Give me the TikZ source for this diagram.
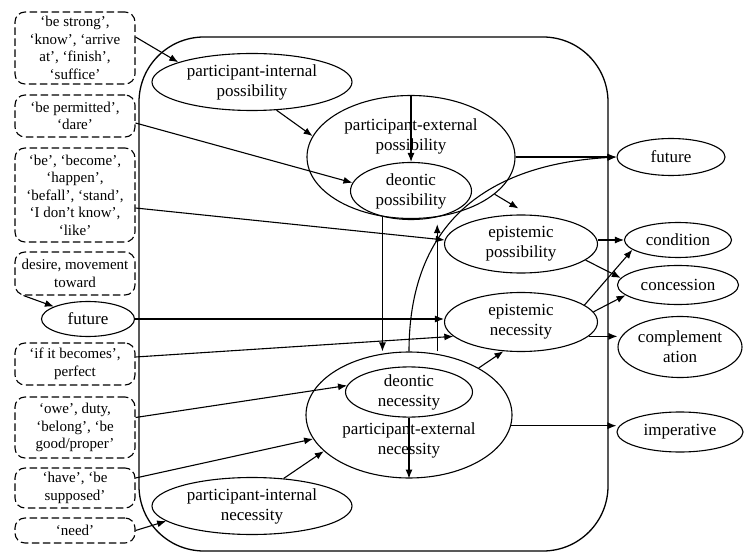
\documentclass[tikz,border=0pt]{standalone}
\usepackage{fontspec}
\setmainfont{Liberation Serif}
\usetikzlibrary{shapes.geometric,arrows.meta}
\begin{document}
\begin{tikzpicture}[x=1pt,y=-1pt,
  ln/.style={line width=1.1pt},
  arr/.style={line width=1.1pt,-{Latex[length=9pt,width=7pt]}},
  dbox/.style={draw,dash pattern=on 7.5pt off 3.5pt,line width=1.1pt,rounded corners=10pt,minimum width=120pt,inner sep=0pt,align=center,font=\fontsize{15}{17.5}\selectfont},
  ell/.style={draw,ellipse,line width=1.1pt,inner sep=0pt,align=center,font=\fontsize{17}{20}\selectfont},
  lbl/.style={align=center,inner sep=0pt,font=\fontsize{17}{20}\selectfont}]
\useasboundingbox (0,0) rectangle (744,553);
% frame
\draw[line width=1.3pt,rounded corners=65pt] (139,37) rectangle (608,551);
% left boxes
\node[dbox,minimum height=72pt] (b1) at (75,48) {‘be strong’,\\‘know’, ‘arrive\\at’, ‘finish’,\\‘suffice’};
\node[dbox,minimum height=42pt] (b2) at (75,116) {‘be permitted’,\\‘dare’};
\node[dbox,minimum height=94pt] (b3) at (75,195) {‘be’, ‘become’,\\‘happen’,\\‘befall’, ‘stand’,\\‘I don’t know’,\\‘like’};
\node[dbox,minimum height=43pt] (b4) at (75,273.5) {desire, movement\\toward};
\node[ell,minimum width=93pt,minimum height=35pt] (fut1) at (88,319) {future};
\node[dbox,minimum height=42pt] (b5) at (75,364) {‘if it becomes’,\\perfect};
\node[dbox,minimum height=61pt] (b6) at (75,427.5) {‘owe’, duty,\\‘belong’, ‘be\\good/proper’};
\node[dbox,minimum height=40pt] (b7) at (75,488) {‘have’, ‘be\\supposed’};
\node[dbox,minimum height=25pt] (b8) at (75,530.5) {‘need’};
% inner ellipses
\node[ell,minimum width=200pt,minimum height=57pt] (pip) at (252,82) {participant-internal\\possibility};
\node[ell,minimum width=208pt,minimum height=123pt] (pep) at (411,157) {};
\node[lbl] (pept) at (411,136) {participant-external\\possibility};
\node[ell,minimum width=121pt,minimum height=57pt] (dp) at (411,191) {deontic\\possibility};
\node[ell,minimum width=153pt,minimum height=58pt] (ep) at (521,244) {epistemic\\possibility};
\node[ell,minimum width=153pt,minimum height=59pt] (en) at (521,322) {epistemic\\necessity};
\node[ell,minimum width=206pt,minimum height=126pt] (pen) at (409,415) {};
\node[lbl] (pent) at (409,440) {participant-external\\necessity};
\node[ell,minimum width=127pt,minimum height=49pt] (dn) at (409,392) {deontic\\necessity};
\node[ell,minimum width=200pt,minimum height=57pt] (pin) at (252,506) {participant-internal\\necessity};
% right ellipses
\node[ell,minimum width=108pt,minimum height=37pt] (fut2) at (671,157) {future};
\node[ell,minimum width=107pt,minimum height=35pt] (cond) at (678,240) {condition};
\node[ell,minimum width=121pt,minimum height=39pt] (conc) at (678,285) {concession};
\node[ell,minimum width=124pt,minimum height=61pt] (comp) at (680,347) {complement\\ation};
\node[ell,minimum width=126pt,minimum height=40pt] (imp) at (680,432) {imperative};
% connectors
\draw[arr] ([yshift=11pt]b1.east) -- (pip.165);
\draw[arr] ([yshift=-7pt]b2.east) -- (dp.172);
\draw[arr] ([yshift=-13pt]b3.east) -- (ep.177);
\draw[arr] ([xshift=9pt]b4.south west) -- (fut1.160);
\draw[arr] (fut1.east) -- (fut1.east -| en.west);
\draw[arr] ([yshift=7pt]b5.east) -- (en.192);
\draw[arr] ([yshift=10pt]b6.east) -- (dn.174);
\draw[arr] ([yshift=10pt]b7.east) -- (pen.194);
\draw[arr] (b8.east) -- (pin.190);
\draw[arr] (pin.41) -- (pen.203);
\draw[arr] (pip.-49) -- (pep.168);
\draw[arr] (pep.north) -- (dp.north);
\draw[arr] (dp.222) -- (dp.222 |- pen.north);
\draw[arr] (dp.-45 |- pen.north) -- ([yshift=-7pt]dp.-45);
\draw[arr] (pen.north) .. controls +(0,-122) and +(-137,8) .. (fut2.west);
\draw[arr] (pep.-24) -- ([yshift=6pt]ep.95);
\draw[arr] (pep.east) -- (fut2.west);
\draw[arr] (cond.west -| ep.east) -- (cond.west);
\draw[arr] (ep.-14) -- (conc.173);
\draw[arr] (en.15) -- (cond.192);
\draw[arr] (en.8) -- (conc.191);
\draw[arr] (en.-12) -- (en.-12 -| comp.west);
\draw[arr] (pen.-6) -- (pen.-6 -| imp.west);
\draw[arr] (pen.34) -- (en.239);
\draw[arr] (dn.south) -- (pen.south);
\end{tikzpicture}
\end{document}
